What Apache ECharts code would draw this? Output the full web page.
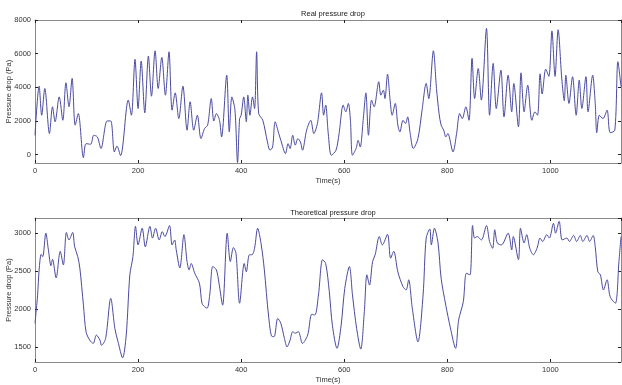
<!DOCTYPE html>
<html>
<head>
<meta charset="utf-8">
<script src="https://cdn.jsdelivr.net/npm/echarts@6/dist/echarts.min.js"></script>
<style>
html,body{margin:0;padding:0;background:#fff;}
#main{width:622px;height:385px;}
</style>
</head>
<body>
<div id="main"></div>
<script>
// real pressure drop: time (s) and value (Pa), read at peaks/troughs
var realT = [0,8,13,19,28,34,39,47,54,60,66,72,78,84,94,99,108,114,121,128,140,147,154,159,166,
  181,187,194,200,206,213,220,226,233,239,246,253,260,266,272,279,287,295,301,308,315,322,329,335,
  342,347,352,358,362,372,377,382,388,393,397,400,405,410,413,417,422,426,430,434,442,451,456,461,
  466,473,477,486,491,495,500,505,510,515,519,527,535,541,548,556,560,564,569,575,584,590,598,603,
  608,612,616,623,627,631,637,642,647,653,658,667,671,676,679,684,689,693,699,704,708,714,719,723,
  728,734,743,751,759,764,773,779,784,788,793,797,801,811,818,824,829,836,842,848,853,860,866,876,
  882,889,895,904,910,918,925,929,938,943,949,956,964,970,975,980,984,991,997,1003,1009,1015,1022,
  1027,1030,1036,1043,1050,1056,1061,1069,1073,1082,1087,1090,1095,1102,1110,1116,1125,1131,1137];
var realP = [1150,4070,2340,3930,1250,2840,1950,3430,2040,4270,2840,4530,1750,2440,-180,650,615,1150,1050,360,2000,2000,160,500,-60,
  3240,2340,5660,2740,5560,2480,5860,3470,6170,3930,5780,3530,6110,2640,3670,2140,4070,1450,3140,1450,2340,950,1550,1750,
  3330,2000,2440,2040,1050,4720,1350,3430,2640,-480,2140,2340,3430,1950,3530,2340,3430,2740,6110,2440,2040,750,260,450,
  1950,1250,850,60,650,360,1150,560,950,750,260,1450,2040,1250,1850,3670,2340,2940,1250,-40,260,1250,2940,2540,
  3040,2040,-40,360,850,450,2140,3670,1150,3240,2840,4330,3530,3830,3330,4780,3240,2340,3040,1750,1350,2040,1850,2240,
  1250,360,950,2640,4230,3330,6170,3930,2440,1750,1450,1050,1250,160,1250,2440,2140,2840,2040,5720,3330,5120,3240,7500,
  2340,5420,2740,5020,2240,4720,2540,4230,1650,4860,2540,4130,2040,2540,2340,4800,3600,5080,4650,7350,4650,7420,4550,
  3200,4720,3040,4630,2340,4430,2740,4630,2540,4720,3040,1300,2340,2140,2640,1300,1450,5520,4030];

// theoretical pressure drop
var theoT = [0,5,8,12,15,21,26,31,34,41,49,55,61,66,73,77,83,87,94,99,106,113,119,126,129,137,147,155,161,170,
  177,184,190,195,200,208,214,223,228,234,241,247,252,261,266,271,274,281,289,295,299,303,310,319,324,329,
  334,339,345,352,357,364,373,379,385,390,397,406,410,416,421,426,432,439,445,453,460,464,471,477,484,489,
  495,500,505,511,519,529,537,543,550,558,564,571,577,586,594,601,610,616,624,632,639,644,649,655,660,668,
  674,684,690,696,704,714,720,725,732,743,753,759,766,769,775,782,788,797,806,816,822,831,837,844,849,853,
  858,866,876,882,888,892,897,905,918,925,928,938,942,949,954,960,967,974,980,985,993,998,1006,1010,1017,
  1023,1032,1037,1045,1051,1058,1063,1071,1076,1083,1087,1092,1097,1103,1110,1116,1126,1133,1137];
var theoP = [1810,2180,2515,2720,2690,3000,2780,2570,2655,2410,2760,2580,3010,2910,3010,2820,2690,2540,2050,1700,1590,1545,1655,1590,1520,1610,2140,1740,1570,1355,
  1655,2450,2690,3090,2845,3065,2820,3090,2935,3065,2910,3020,2955,3100,2845,2910,2780,2540,2980,2625,2515,2600,2470,2340,2075,2030,
  2010,2185,2560,2515,2340,2050,3000,2625,2810,2735,2075,2600,2490,2715,2715,2800,3065,2845,2515,1920,1635,1635,1875,1810,1610,1500,
  1590,1700,1680,1700,1545,1655,1930,1920,2185,2650,2600,2230,1785,1480,1785,2270,2560,2185,1745,1470,1965,2450,2315,2625,2715,2955,
  2845,2985,2670,2760,2490,2295,2250,2385,2010,1565,2185,2935,3055,2845,3065,2870,2405,2050,1750,1480,1855,2095,2470,2450,3100,2935,
  2955,2910,3100,2890,2800,3045,2870,2845,3000,2780,2955,2650,3065,2870,2980,2800,2715,2800,2935,2890,2980,2935,3130,3000,3155,
  2910,2935,2890,2970,2890,2970,2890,2970,2890,2970,2820,2490,2450,2250,2385,2160,2075,2625,2955];

var titles = ['Real pressure drop', 'Theoretical pressure drop'];
var xName = 'Time(s)';
var yName = 'Pressure drop (Pa)';

var font = 'Liberation Sans, Arial, sans-serif';
var lineColor = '#4a4aa0';

function pairs(t, v) {
    return t.map(function (x, i) { return [x, v[i]]; });
}

function plain(v) { return String(v); }

function xAx(grid, pos, labels) {
    return {
        type: 'value', gridIndex: grid, position: pos, min: 0, max: 1137,
        splitNumber: 6, minInterval: 200, maxInterval: 200,
        axisLine: {show: true, onZero: false, lineStyle: {color: '#8a8a8a', width: 1}},
        axisTick: {show: true, inside: true, length: 3, lineStyle: {color: '#222'}},
        axisLabel: {show: labels, fontSize: 7.5, color: '#333', margin: 4, fontFamily: font,
            showMaxLabel: false, formatter: plain},
        splitLine: {show: false},
        name: labels ? xName : '', nameLocation: 'middle', nameGap: 14, nameMoveOverlap: false,
        nameTextStyle: {fontSize: 7.5, color: '#333', fontFamily: font}
    };
}

function yAx(grid, pos, labels, min, max, step, showMax) {
    return {
        type: 'value', gridIndex: grid, position: pos, min: min, max: max,
        splitNumber: 4, minInterval: step, maxInterval: step,
        axisLine: {show: true, onZero: false, lineStyle: {color: '#8a8a8a', width: 1}},
        axisTick: {show: true, inside: true, length: 3, lineStyle: {color: '#222'}},
        axisLabel: {show: labels, fontSize: 7.5, color: '#333', margin: 4, fontFamily: font,
            showMinLabel: false, showMaxLabel: showMax, formatter: plain},
        splitLine: {show: false},
        name: labels ? yName : '', nameLocation: 'middle', nameGap: 22, nameMoveOverlap: false,
        nameTextStyle: {fontSize: 7.5, color: '#333', fontFamily: font}
    };
}

var chart = echarts.init(document.getElementById('main'));
chart.setOption({
    backgroundColor: '#fff',
    animation: false,
    title: [
        {text: titles[0], left: 328, top: 5, textAlign: 'center',
            textStyle: {fontSize: 7.5, fontWeight: 'normal', color: '#222', fontFamily: font}},
        {text: titles[1], left: 328, top: 204, textAlign: 'center',
            textStyle: {fontSize: 7.5, fontWeight: 'normal', color: '#222', fontFamily: font}}
    ],
    grid: [
        {left: 35, top: 20, width: 586, height: 143, containLabel: false, outerBoundsMode: 'none'},
        {left: 35, top: 218, width: 586, height: 144, containLabel: false, outerBoundsMode: 'none'}
    ],
    xAxis: [
        xAx(0, 'bottom', true), xAx(0, 'top', false),
        xAx(1, 'bottom', true), xAx(1, 'top', false)
    ],
    yAxis: [
        yAx(0, 'left', true, -500, 8000, 2000, true), yAx(0, 'right', false, -500, 8000, 2000, true),
        yAx(1, 'left', true, 1300, 3200, 500, false), yAx(1, 'right', false, 1300, 3200, 500, false)
    ],
    series: [
        {type: 'line', xAxisIndex: 0, yAxisIndex: 0, data: pairs(realT, realP),
            showSymbol: false, smooth: 0.3, lineStyle: {color: lineColor, width: 1}},
        {type: 'line', xAxisIndex: 2, yAxisIndex: 2, data: pairs(theoT, theoP),
            showSymbol: false, smooth: 0.3, lineStyle: {color: lineColor, width: 1}}
    ]
});
</script>
</body>
</html>
